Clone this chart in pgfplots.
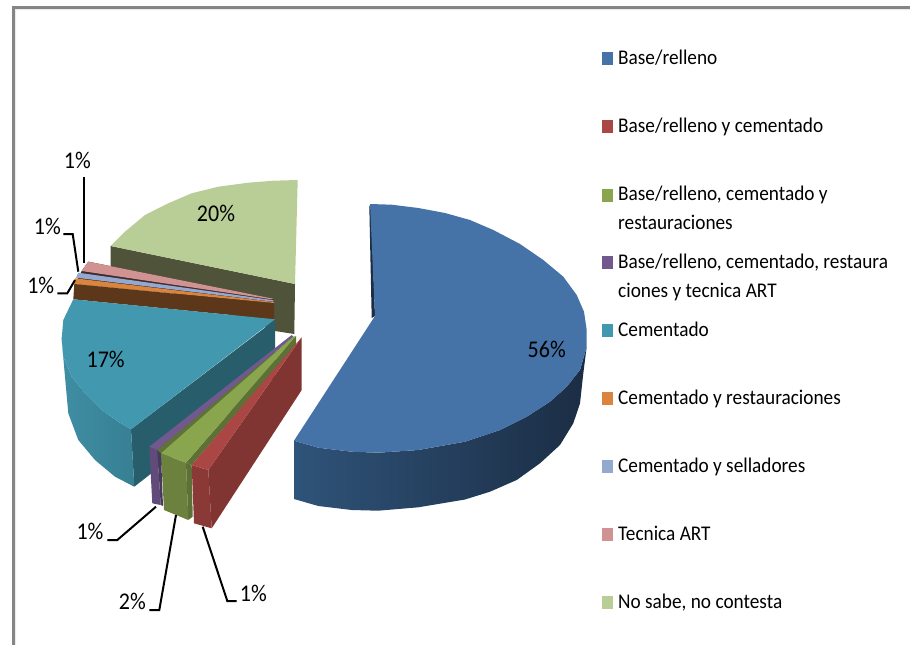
\documentclass[border=0pt]{standalone}
\usepackage{graphicx}
\usepackage{fontspec}
\setmainfont{Carlito}
\usepackage{pgfplots}
\pgfplotsset{compat=1.18}
\definecolor{cblue}{HTML}{4572A7}
\definecolor{cred}{HTML}{AA4643}
\definecolor{cgreen}{HTML}{89A54E}
\definecolor{cpurple}{HTML}{71588F}
\definecolor{cteal}{HTML}{4198AF}
\definecolor{corange}{HTML}{DB843D}
\definecolor{cltblue}{HTML}{93A9CF}
\definecolor{cpink}{HTML}{D19392}
\definecolor{cltgreen}{HTML}{B9CD96}
\definecolor{colive}{HTML}{4E533A}
\definecolor{bsa}{HTML}{2F5379}
\definecolor{bsb}{HTML}{233A56}
\definecolor{bsc}{HTML}{1B2D44}
\definecolor{tsa}{HTML}{3F8EA4}
\definecolor{tsb}{HTML}{377F93}
\newcommand\T[1]{\scalebox{1.015}[1.10]{\fontsize{19}{22}\selectfont #1}}
\newcommand\TL[1]{\scalebox{1}[1.09]{\fontsize{22}{24}\selectfont #1}}
\newcommand\Leg[3]{\node[anchor=base west,inner sep=0pt] at (axis cs:#1,#2) {\T{#3}};}
\newcommand\Lab[3]{\node[inner sep=0pt] at (axis cs:#1,#2) {\TL{#3}};}
\begin{document}
\begin{tikzpicture}
\begin{axis}[
  width=910pt,height=645pt,scale only axis,
  xmin=0,xmax=910,ymin=0,ymax=645,y dir=reverse,
  axis lines=none,clip=true]
% background and frame
\addplot[draw=none,fill=white] coordinates {(0,0)(910,0)(910,645)(0,645)} --cycle;
\addplot[draw=none,fill=black!8] coordinates {(15,9)(910,9)(910,10)(16,10)(16,645)(15,645)} --cycle;
\addplot[color=black!48,line width=2.6pt] coordinates {(13.6,645)(13.6,7.3)(910,7.3)};
% No sabe
\addplot[draw=none,fill=colive] coordinates {(110.7,246)(295,284)(294.3,334)(275,331)(110.7,270)} --cycle;
\addplot[draw=none,fill=cltgreen] coordinates {(110.7,246)(125,231.7)(145,215)(168.3,203.3)(191.7,193.3)(218.3,186.7)(248.3,182.7)(273.3,180.7)(297.7,180)(295,284)} --cycle;
% small back slices
\addplot[draw=none,fill=black!70!cpink] coordinates {(81.7,271)(88.3,261.7)(273.3,298.7)(274,303)(75,284)} --cycle;
\addplot[draw=none,fill=cpink] coordinates {(88.3,261.7)(81.7,271)(271.7,299.3)(273.3,298.7)} --cycle;
\addplot[draw=none,fill=cltblue] coordinates {(78.3,272.7)(76,277.7)(273.3,301.7)(273.3,300.2)} --cycle;
\addplot[draw=none,fill=corange] coordinates {(75,278.3)(74,284)(274,303)(274,302)} --cycle;
\addplot[draw=none,fill=corange!42!black] coordinates {(74.3,284)(73.3,299.3)(274,319.3)(274,303.3)} --cycle;
% Cementado
\addplot[draw=none,fill=cteal!62!black] coordinates {(131,429.3)(275,320)(275,377)(134.3,486.7)} --cycle;
\addplot[draw=none,left color=tsa,right color=tsb] coordinates {(61.7,338.3)(63.3,356.7)(71.7,376.7)(85,393.3)(101.7,410)(118.3,421.7)(131,429.3)(134.3,486.7)(115,476.7)(95,460)(78.3,440)(68.3,413.3)(65,376.7)(62,343)} --cycle;
\addplot[draw=none,fill=cteal] coordinates {(73.3,299.3)(275,319.3)(131,429.3)(118.3,421.7)(101.7,410)(85,393.3)(71.7,376.7)(63.3,356.7)(61.7,338.3)(63.3,320)} --cycle;
% Purple
\addplot[draw=none,fill=cpurple!85!black] coordinates {(149.3,447.3)(157.3,450)(160.7,505)(152.3,503.3)} --cycle;
\addplot[draw=none,fill=cpurple!65!black] coordinates {(157.3,450)(161,453.3)(163,506)(160.7,505)} --cycle;
\addplot[draw=none,fill=cpurple] coordinates {(149.3,446.7)(291.7,335)(293.3,336.7)(157.3,450)} --cycle;
% Green
\addplot[draw=none,fill=cgreen!70!black] coordinates {(157.3,450)(293.3,336.7)(296,340)(161,453.3)} --cycle;
\addplot[draw=none,fill=cgreen!78!black] coordinates {(161,453.3)(186,462.7)(188.3,520)(164,510)} --cycle;
\addplot[draw=none,fill=cgreen!68!black] coordinates {(186,462.7)(191.7,465)(192.7,516.7)(188.3,520)} --cycle;
\addplot[draw=none,fill=cgreen!68!black] coordinates {(186,462.7)(191.7,465)(296,345)(296,336)} --cycle;
\addplot[draw=none,fill=cgreen] coordinates {(161,453.3)(186,462.7)(296,336)(293.3,336.7)} --cycle;
% Red
\addplot[draw=none,fill=cred!75!black] coordinates {(208.3,470)(301.7,337.3)(301.7,390)(211.7,528.3)} --cycle;
\addplot[draw=none,fill=cred!82!black] coordinates {(191.7,465)(208.3,470)(211.7,528.3)(194,523.3)} --cycle;
\addplot[draw=none,fill=cred] coordinates {(191.7,465)(208.3,470)(301.7,337.3)} --cycle;
% Base/relleno
\addplot[draw=none,fill=cblue!40!black] coordinates {(369.3,206)(371.7,318)(375,316)(371,205)} --cycle;
\addplot[draw=none,left color=bsa,middle color=bsb,right color=bsc] coordinates {(294,440.7)(318.3,447.7)(351.7,451.7)(378.3,452.7)(418.3,450)(465,441.7)(500,430)(526.7,416.7)(550,401.7)(566.7,386.7)(580,370)(586.7,346.7)(583.3,373.3)(580,403.3)(573.3,423.3)(560,445)(540,463.3)(516.7,480)(490,491.7)(465,499.5)(418.3,507.3)(378.3,510.7)(351.7,510)(318.3,506)(294,499)} --cycle;
\addplot[draw=none,fill=cblue] coordinates {(370,204)(391.7,204.7)(418.3,208)(445,213)(470,220)(493.3,230)(520,244)(543.3,260)(563.3,276.7)(576.7,295)(584,311.7)(586.7,330)(586.7,346.7)(580,370)(566.7,386.7)(550,401.7)(526.7,416.7)(500,430)(465,441.7)(418.3,450)(378.3,452.7)(351.7,451.7)(318.3,447.7)(294,440.7)(375,316)} --cycle;
% leader lines
\addplot[black,line width=2pt] coordinates {(84,176.7)(84,263.3)};
\addplot[black,line width=2pt] coordinates {(63.3,234)(72.7,234)(78.3,271.7)};
\addplot[black,line width=2pt] coordinates {(57.3,293.3)(67.3,293.3)(75,280)};
\addplot[black,line width=2pt] coordinates {(107.3,540)(117.3,540)(156,506.7)};
\addplot[black,line width=2pt] coordinates {(149.3,610)(159.3,610)(176,515)};
\addplot[black,line width=2pt] coordinates {(236.7,601)(227.3,601)(202.7,526.7)};
% data labels
\Lab{77.3}{160.7}{1\%}
\Lab{47.3}{226.7}{1\%}
\Lab{40.7}{285}{1\%}
\Lab{216}{213.3}{20\%}
\Lab{105.7}{359.3}{17\%}
\Lab{546.7}{349.3}{56\%}
\Lab{90}{531.7}{1\%}
\Lab{132.3}{601.7}{2\%}
\Lab{253.3}{593.3}{1\%}
% legend keys
\addplot[draw=none,fill=cblue] coordinates {(601.7,52)(613.3,52)(613.3,64.5)(601.7,64.5)} --cycle;
\addplot[draw=none,fill=cred] coordinates {(601.7,120)(613.3,120)(613.3,132.5)(601.7,132.5)} --cycle;
\addplot[draw=none,fill=cgreen] coordinates {(601.7,189)(613.3,189)(613.3,201.5)(601.7,201.5)} --cycle;
\addplot[draw=none,fill=cpurple] coordinates {(601.7,256)(613.3,256)(613.3,268.5)(601.7,268.5)} --cycle;
\addplot[draw=none,fill=cteal] coordinates {(601.7,324)(613.3,324)(613.3,336.5)(601.7,336.5)} --cycle;
\addplot[draw=none,fill=corange] coordinates {(601.7,392)(613.3,392)(613.3,404.5)(601.7,404.5)} --cycle;
\addplot[draw=none,fill=cltblue] coordinates {(601.7,460)(613.3,460)(613.3,472.5)(601.7,472.5)} --cycle;
\addplot[draw=none,fill=cpink] coordinates {(601.7,528)(613.3,528)(613.3,540.5)(601.7,540.5)} --cycle;
\addplot[draw=none,fill=cltgreen] coordinates {(601.7,596)(613.3,596)(613.3,608.5)(601.7,608.5)} --cycle;
% legend text
\Leg{618}{64}{Base/relleno}
\Leg{618}{132}{Base/relleno y cementado}
\Leg{618}{200}{Base/relleno, cementado y}
\Leg{618}{229}{restauraciones}
\Leg{618}{268}{Base/relleno, cementado, restaura}
\Leg{618}{297}{ciones y tecnica ART}
\Leg{618}{336}{Cementado}
\Leg{618}{404}{Cementado y restauraciones}
\Leg{618}{472}{Cementado y selladores}
\Leg{618}{540}{Tecnica ART}
\Leg{618}{608}{No sabe, no contesta}
\end{axis}
\end{tikzpicture}
\end{document}
